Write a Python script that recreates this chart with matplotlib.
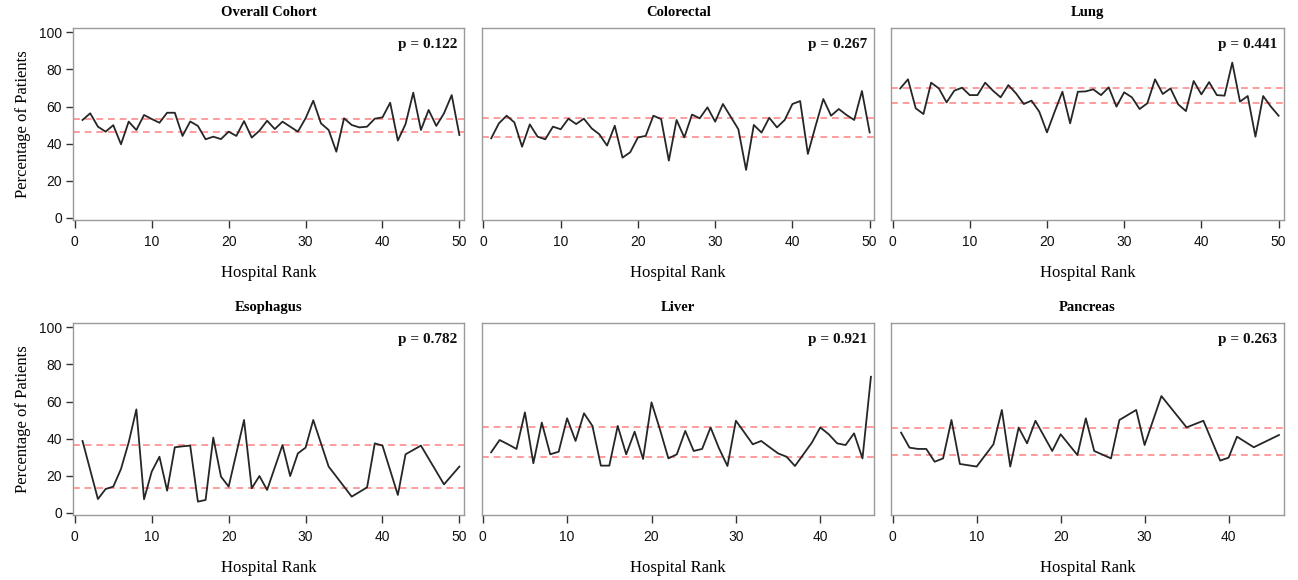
import matplotlib
matplotlib.use("Agg")
import matplotlib.pyplot as plt

# ---------------- data ----------------
titles = ["Overall Cohort", "Colorectal", "Lung", "Esophagus", "Liver", "Pancreas"]
p_labels = ["p = 0.122", "p = 0.267", "p = 0.441", "p = 0.782", "p = 0.921", "p = 0.263"]

overall_x = list(range(1, 51))
overall_y = [52.8, 56.4, 49.2, 46.5, 50.0, 39.7, 51.9, 47.4, 55.5, 53.3,
             51.3, 56.7, 56.7, 44.2, 52.0, 49.6, 42.4, 43.8, 42.5, 46.5,
             44.2, 52.2, 43.3, 47.0, 52.4, 47.9, 51.9, 49.2, 46.5, 53.7,
             63.2, 51.0, 47.4, 35.7, 53.7, 50.1, 48.8, 49.2, 53.5, 54.2,
             62.1, 41.7, 50.6, 67.5, 47.4, 58.2, 49.6, 56.4, 66.2, 44.7]

colorectal_x = list(range(1, 51))
colorectal_y = [42.9, 51.0, 55.1, 51.5, 38.4, 50.4, 43.8, 42.4, 49.2, 47.8,
                53.5, 50.6, 53.5, 48.3, 45.1, 39.0, 49.7, 32.5, 35.4, 43.4,
                44.2, 55.1, 53.3, 30.9, 52.8, 43.4, 55.7, 53.7, 59.6, 51.9,
                61.4, 54.6, 47.8, 25.9, 50.1, 46.0, 54.0, 48.8, 52.8, 61.4,
                63.0, 34.5, 49.6, 64.1, 55.1, 58.7, 55.5, 52.8, 68.4, 46.1]

lung_x = list(range(1, 51))
lung_y = [69.8, 74.7, 59.1, 56.0, 72.9, 69.8, 62.3, 68.6, 70.2, 66.2,
          66.2, 72.9, 68.6, 65.0, 71.6, 67.1, 61.4, 63.2, 57.3, 46.1,
          57.3, 68.0, 51.0, 68.0, 68.2, 69.3, 66.2, 70.4, 60.0, 67.7,
          65.0, 58.7, 61.8, 74.7, 66.8, 69.8, 61.2, 57.6, 73.8, 66.6,
          73.2, 66.2, 65.9, 83.7, 62.7, 65.7, 43.8, 65.7, 60.0, 55.1]

esophagus_x = [1, 3, 4, 5, 6, 7, 8, 9, 10, 11, 12, 13, 14, 15, 16, 17, 18, 19, 20,
               22, 23, 24, 25, 27, 28, 29, 30, 31, 33, 36, 38, 39, 40, 42, 43, 45, 48, 50]
esophagus_y = [38.8, 7.5, 12.9, 14.2, 23.7, 38.0, 55.8, 7.4, 22.3, 30.3, 12.0, 35.4,
               35.9, 36.3, 6.1, 7.0, 40.6, 19.6, 14.2, 50.1, 13.3, 19.9, 12.4, 36.6,
               19.9, 32.1, 35.2, 50.1, 25.0, 8.8, 13.8, 37.5, 36.3, 9.7, 31.6, 36.3,
               15.4, 25.0]

liver_x = list(range(1, 47))
liver_y = [32.7, 39.3, 37.0, 34.5, 54.2, 26.8, 48.7, 31.6, 33.0, 51.0,
           38.8, 53.7, 46.9, 25.5, 25.5, 46.9, 31.6, 43.8, 29.1, 59.6,
           45.0, 29.4, 31.6, 44.2, 33.4, 34.5, 46.1, 34.8, 25.3, 49.7,
           43.4, 37.0, 38.8, 35.4, 32.1, 30.3, 25.3, 31.6, 37.9, 46.1,
           42.4, 37.5, 36.6, 42.9, 29.4, 73.4]

pancreas_x = [1, 2, 3, 4, 5, 6, 7, 8, 10, 12, 13, 14, 15, 16, 17, 19, 20, 22, 23, 24,
              26, 27, 29, 30, 32, 35, 37, 39, 40, 41, 43, 46]
pancreas_y = [43.3, 35.2, 34.5, 34.5, 27.6, 29.4, 50.1, 26.4, 25.0, 37.0, 55.5, 25.0,
              46.0, 37.5, 49.7, 33.4, 42.4, 31.2, 51.0, 33.4, 29.4, 50.1, 55.5, 36.6,
              63.0, 46.1, 49.7, 28.2, 29.8, 41.1, 35.4, 42.0]

ref_upper = [53.5, 53.9, 70.0, 36.4, 46.1, 46.0]
ref_lower = [46.3, 43.8, 61.8, 13.3, 30.0, 31.2]

x_ticks_50 = [0, 10, 20, 30, 40, 50]
x_ticks_46 = [0, 10, 20, 30, 40]
y_ticks = [0, 20, 40, 60, 80, 100]

series_x = [overall_x, colorectal_x, lung_x, esophagus_x, liver_x, pancreas_x]
series_y = [overall_y, colorectal_y, lung_y, esophagus_y, liver_y, pancreas_y]

# ---------------- layout ----------------
W, H = 1298, 580
fig = plt.figure(figsize=(W / 100, H / 100), dpi=100)

SERIF = ["Liberation Serif", "DejaVu Serif"]
SANS = ["Liberation Sans", "DejaVu Sans"]

col_px = [(73.3, 464.0), (482.3, 874.3), (891.0, 1284.0)]
row_px = [(28.3, 220.0), (323.3, 515.0)]
xlims = [(-0.2, 50.6), (-0.15, 50.6), (-0.2, 50.7),
         (-0.2, 50.6), (-0.05, 46.4), (-0.2, 46.6)]

frame_color = "#9a9a9a"
tick_color = "#333333"

for i in range(6):
    r, c = divmod(i, 3)
    x0, x1 = col_px[c]
    y0, y1 = row_px[r]
    ax = fig.add_axes([x0 / W, 1 - y1 / H, (x1 - x0) / W, (y1 - y0) / H])
    ax.plot(series_x[i], series_y[i], color="#262626", lw=1.3, zorder=3)
    ax.axhline(ref_upper[i], color="#ff9c9c", lw=1.4, ls=(0, (3.5, 2.5)), zorder=2)
    ax.axhline(ref_lower[i], color="#ff9c9c", lw=1.4, ls=(0, (3.5, 2.5)), zorder=2)
    ax.set_xlim(*xlims[i])
    ax.set_ylim(-1.1, 102.2)
    ax.set_xticks(x_ticks_50 if i in (0, 1, 2, 3) else x_ticks_46)
    for s in ax.spines.values():
        s.set_color(frame_color)
        s.set_linewidth(1.0)
    ax.tick_params(axis="x", direction="out", length=6, width=1.0, color=tick_color,
                   labelsize=10, pad=5, labelcolor="#111111")
    for lab in ax.get_xticklabels():
        lab.set_family(SANS)
    if c == 0:
        ax.set_yticks(y_ticks)
        ax.tick_params(axis="y", direction="out", length=5, width=1.0, color=tick_color,
                       labelsize=10, pad=3, labelcolor="#111111")
        for lab in ax.get_yticklabels():
            lab.set_family(SANS)
        ax.set_ylabel("Percentage of Patients", family=SERIF, fontsize=12, labelpad=6)
    else:
        ax.set_yticks([])
    ax.set_xlabel("Hospital Rank", family=SERIF, fontsize=12, labelpad=11)
    ax.set_title(titles[i], family=SERIF, fontsize=10.5, fontweight="bold", pad=9)
    ax.text(0.982, 0.915, p_labels[i], transform=ax.transAxes, ha="right", va="center",
            family=SERIF, fontsize=11, fontweight="bold", color="#111111")

fig.savefig("out.png", dpi=100, facecolor="white")
